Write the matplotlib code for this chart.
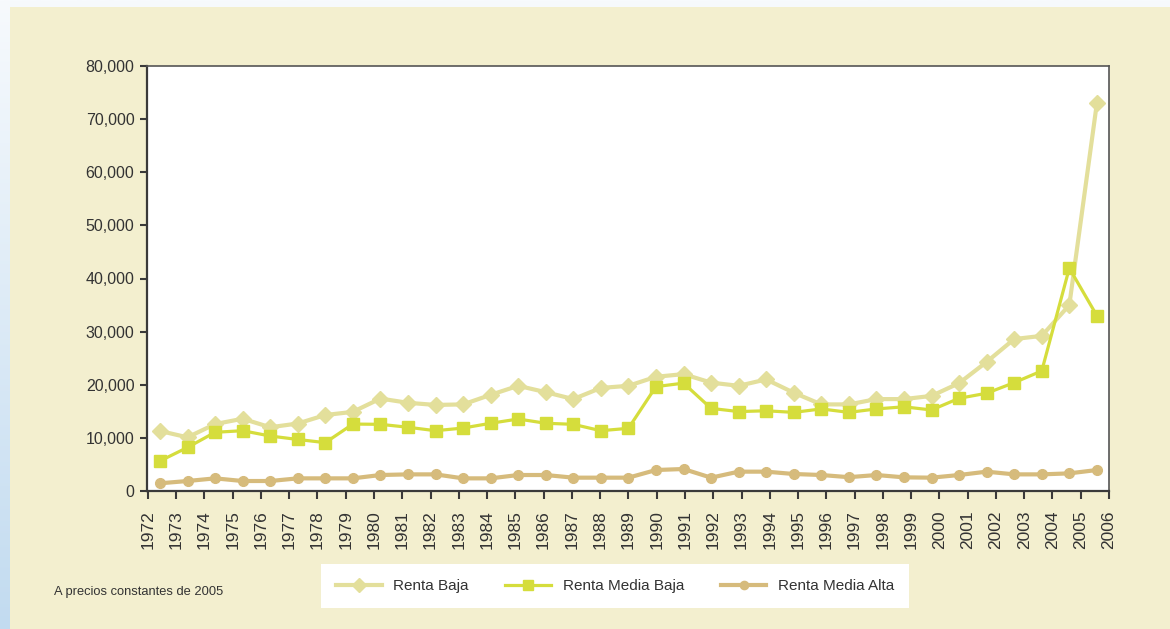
import matplotlib
matplotlib.use("Agg")
import matplotlib.pyplot as plt
import numpy as np
from matplotlib.patches import Rectangle
from matplotlib.ticker import FuncFormatter

plt.rcParams["font.family"] = ["Liberation Sans", "DejaVu Sans"]

years = [str(y) for y in range(1972, 2007)]
renta_baja = [11300, 10100, 12600, 13600, 12000, 12700, 14300, 14900, 17400,
              16600, 16200, 16300, 18100, 19800, 18600, 17300, 19400, 19800,
              21500, 22000, 20400, 19800, 21000, 18500, 16300, 16300, 17300,
              17300, 17900, 20300, 24300, 28600, 29200, 35000, 73000]
renta_media_baja = [5650, 8200, 11050, 11350, 10350, 9700, 9100, 12600, 12550,
                    12000, 11350, 11850, 12750, 13550, 12750, 12550, 11350,
                    11800, 19650, 20300, 15550, 14950, 15100, 14800, 15450,
                    14800, 15450, 15850, 15250, 17450, 18400, 20400, 22600,
                    41950, 33000]
renta_media_alta = [1450, 1880, 2380, 1880, 1880, 2380, 2380, 2380, 3010, 3130,
                    3130, 2380, 2380, 3010, 3010, 2510, 2510, 2510, 3950, 4140,
                    2510, 3640, 3640, 3200, 3010, 2600, 3010, 2570, 2510, 3010,
                    3640, 3130, 3130, 3320, 3950]

text_color = "#333333"
axis_color = "#3a3a3a"

fig = plt.figure(figsize=(11.7, 6.29), dpi=100)

# soft blue page edge behind the panel, paler towards the top
bg = fig.add_axes([0, 0, 1, 1], zorder=-2)
grad = np.linspace(0, 1, 256).reshape(-1, 1)
bg.imshow(grad, aspect="auto", extent=[0, 1, 0, 1], origin="lower",
          cmap=matplotlib.colors.LinearSegmentedColormap.from_list(
              "edge", ["#c2dbf0", "#f7fafd"]))
bg.set_axis_off()
fig.patches.append(Rectangle((10 / 1170, 0), 1, 1 - 7 / 629,
                             transform=fig.transFigure, facecolor="#f3efcf",
                             edgecolor="none", zorder=-1))

ax = fig.add_axes([147 / 1170, 1 - 491 / 629, 962 / 1170, 425 / 629])
ax.set_facecolor("white")
x = np.arange(len(renta_baja))

ax.plot(x, renta_baja, color="#e3df9b", lw=3, marker="D", ms=8,
        label="Renta Baja", zorder=2)
ax.plot(x, renta_media_baja, color="#d5dd3c", lw=2.3, marker="s", ms=8,
        label="Renta Media Baja", zorder=3)
ax.plot(x, renta_media_alta, color="#d6bb7c", lw=3, marker="o", ms=7,
        label="Renta Media Alta", zorder=2)

ax.set_xlim(-0.47, len(x) - 1 + 0.44)
ax.set_ylim(0, 80000)
ax.set_yticks(range(0, 80001, 10000))
ax.yaxis.set_major_formatter(FuncFormatter(lambda v, p: f"{int(v):,}"))
ax.tick_params(axis="y", direction="out", length=5, width=1.5,
               colors=axis_color, labelcolor=text_color, labelsize=11.5, pad=4)
ax.set_xticks([])
for side in ["left", "bottom"]:
    ax.spines[side].set_linewidth(1.6)
    ax.spines[side].set_color(axis_color)
for side in ["top", "right"]:
    ax.spines[side].set_linewidth(1.2)
    ax.spines[side].set_color("#555555")

# year labels sit on their own scale along the bottom edge
ax2 = ax.twiny()
ax2.set_xlim(-0.03, len(years) - 1 - 0.13)
ax2.xaxis.set_ticks_position("bottom")
ax2.xaxis.set_label_position("bottom")
ax2.set_xticks(range(len(years)))
ax2.set_xticklabels(years, rotation=90)
ax2.tick_params(axis="x", direction="out", length=6, width=1.5,
                colors=axis_color, labelcolor=text_color, labelsize=12.5,
                pad=8)
for side in ax2.spines:
    ax2.spines[side].set_visible(False)

fig.text(54 / 1170, 1 - 592 / 629, "A precios constantes de 2005",
         fontsize=9.3, color=text_color, va="center", ha="left")

handles, labels = ax.get_legend_handles_labels()
leg = fig.legend(handles, labels, loc="center", ncol=3,
                 bbox_to_anchor=(615 / 1170, 1 - 586 / 629),
                 frameon=True, fancybox=False, fontsize=11,
                 handlelength=3.0, columnspacing=2.4, handletextpad=0.75,
                 borderpad=0.95, labelcolor=text_color, markerscale=0.85)
leg.get_frame().set_facecolor("white")
leg.get_frame().set_edgecolor("none")
leg.get_frame().set_alpha(1)

fig.savefig("out.png", dpi=100)
